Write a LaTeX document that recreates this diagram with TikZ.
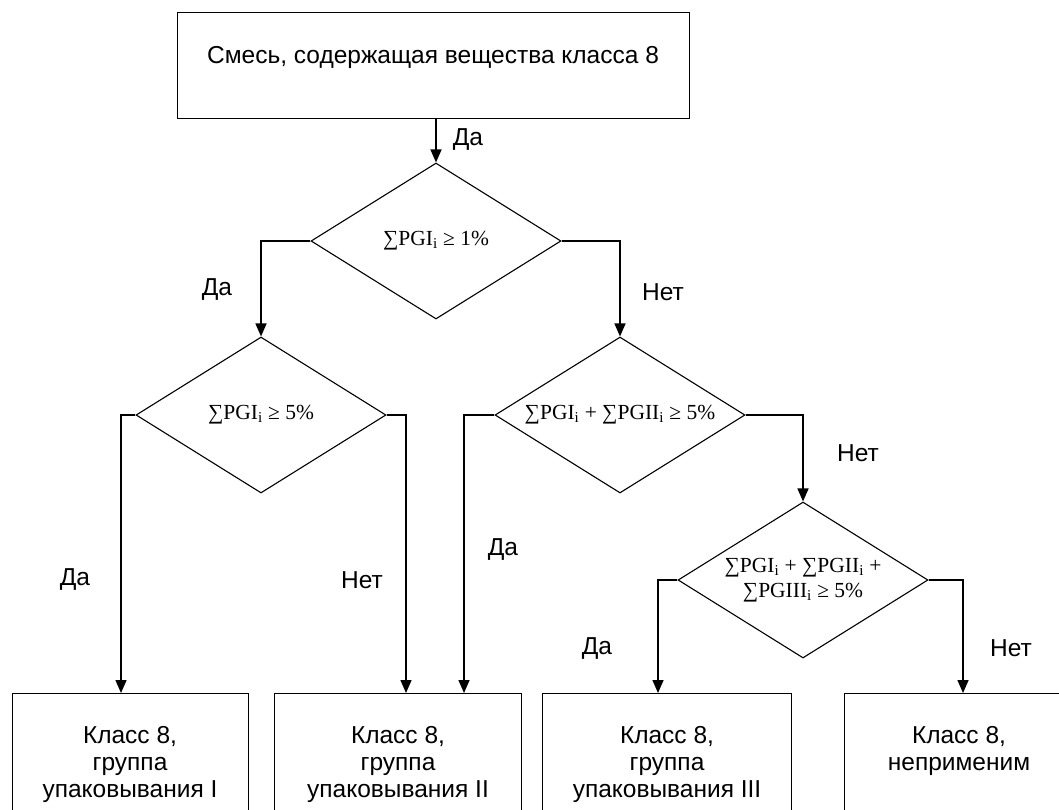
\documentclass[tikz,border=0pt]{standalone}
\usepackage{fontspec}
\setmainfont{Liberation Sans}
\newfontfamily\tnr{Liberation Serif}
\usetikzlibrary{arrows.meta,shapes.geometric}
\newcommand\sbi{\textsubscript{i}}
\begin{document}
\begin{tikzpicture}[x=1pt,y=-1pt,
  boxst/.style={draw, line width=0.9pt, rectangle, inner sep=0pt, align=center,
    font=\fontsize{24.5}{27}\selectfont},
  decst/.style={draw, line width=1.1pt, diamond, aspect=1.6, minimum width=250pt,
    minimum height=156pt, inner sep=0pt, align=center,
    font=\tnr\fontsize{21.5}{25}\selectfont},
  lbl/.style={font=\fontsize{24.5}{28}\selectfont, inner sep=0pt},
  arr/.style={line width=1.5pt, -{Triangle[length=13pt,width=11pt]}}]
\useasboundingbox (0,0) rectangle (1059,809);
\clip (0,0) rectangle (1059,809);
% nodes
\node[boxst, minimum width=512pt, minimum height=106pt, text depth=21pt] (top) at (433,65)
  {Смесь, содержащая вещества класса 8};
\node[decst] (d1) at (436,241) {∑PGI\sbi{} ≥ 1\%};
\node[decst] (d2) at (261,415) {∑PGI\sbi{} ≥ 5\%};
\node[decst] (d3) at (620,415) {∑PGI\sbi{} + ∑PGII\sbi{} ≥ 5\%};
\node[decst] (d4) at (803,580) {∑PGI\sbi{} + ∑PGII\sbi{} +\\∑PGIII\sbi{} ≥ 5\%};
\node[boxst, minimum width=236pt, minimum height=142pt, anchor=north] (b1) at (130,693)
  {Класс 8,\\группа\\упаковывания I};
\node[boxst, minimum width=247pt, minimum height=142pt, anchor=north] (b2) at (398,693)
  {Класс 8,\\группа\\упаковывания II};
\node[boxst, minimum width=249pt, minimum height=142pt, anchor=north] (b3) at (667,693)
  {Класс 8,\\группа\\упаковывания III};
\node[boxst, minimum width=230pt, minimum height=142pt, anchor=north, text depth=33pt] (b4) at (959,693)
  {Класс 8,\\неприменим};
% connector columns
\coordinate (x1) at (121,0);
\coordinate (x2) at (406,0);
\coordinate (x3) at (464,0);
\coordinate (x4) at (658,0);
\coordinate (x5) at (963,0);
% connectors
\draw[arr] (top.south -| d1.north) -- (d1.north);
\draw[arr] (d1.west) -| (d2.north);
\draw[arr] (d1.east) -| (d3.north);
\draw[arr] (d2.west) -| (x1 |- b1.north);
\draw[arr] (d2.east) -| (x2 |- b2.north);
\draw[arr] (d3.west) -| (x3 |- b2.north);
\draw[arr] (d3.east) -| (d4.north);
\draw[arr] (d4.west) -| (x4 |- b3.north);
\draw[arr] (d4.east) -| (x5 |- b4.north);
% labels
\node[lbl] (l1) at (468,140) {Да};
\node[lbl] (l2) at (217,290) {Да};
\node[lbl] (l3) at (663,292) {Нет};
\node[lbl] (l4) at (75,580) {Да};
\node[lbl] (l5) at (362,580) {Нет};
\node[lbl] (l6) at (503,550) {Да};
\node[lbl] (l7) at (858,453) {Нет};
\node[lbl] (l8) at (597,648) {Да};
\node[lbl] (l9) at (1011,648) {Нет};
\end{tikzpicture}
\end{document}
